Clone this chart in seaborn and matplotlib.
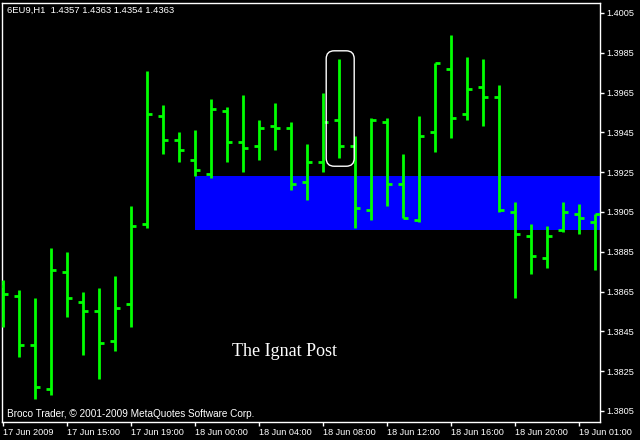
import numpy as np
import pandas as pd
import seaborn as sns
import matplotlib.pyplot as plt
from matplotlib.patches import FancyBboxPatch
from matplotlib.transforms import IdentityTransform

# 6EU9 hourly bars, 17 Jun 2009 11:00 -> 19 Jun 2009 02:00
opens = [1.3868, 1.3863, 1.3838, 1.3816, 1.3875, 1.3860, 1.3855, 1.3840, 1.3859, 1.3899,
         1.3953, 1.3941, 1.3931, 1.3924, 1.3956, 1.3940, 1.3938, 1.3948, 1.3947, 1.3920,
         1.3930, 1.3951, 1.3938, 1.3906, 1.3950, 1.3919, 1.3901, 1.3945, 1.3977, 1.3954,
         1.3968, 1.3963, 1.3905, 1.3893, 1.3882, 1.3896, 1.3904, 1.3900]
highs = [1.3871, 1.3866, 1.3862, 1.3887, 1.3885, 1.3865, 1.3867, 1.3873, 1.3908, 1.3976,
         1.3959, 1.3945, 1.3946, 1.3962, 1.3958, 1.3964, 1.3951, 1.3960, 1.3950, 1.3939,
         1.3965, 1.3982, 1.3943, 1.3952, 1.3952, 1.3934, 1.3953, 1.3980, 1.3994, 1.3983,
         1.3982, 1.3969, 1.3910, 1.3899, 1.3898, 1.3910, 1.3909, 1.3904]
lows = [1.3847, 1.3832, 1.3811, 1.3813, 1.3852, 1.3833, 1.3821, 1.3835, 1.3847, 1.3897,
        1.3934, 1.3930, 1.3923, 1.3922, 1.3930, 1.3925, 1.3931, 1.3936, 1.3916, 1.3911,
        1.3925, 1.3932, 1.3897, 1.3901, 1.3908, 1.3902, 1.3900, 1.3935, 1.3942, 1.3951,
        1.3948, 1.3905, 1.3862, 1.3874, 1.3877, 1.3895, 1.3894, 1.3876]
closes = [1.3864, 1.3838, 1.3817, 1.3876, 1.3862, 1.3855, 1.3839, 1.3857, 1.3898, 1.3954,
          1.3941, 1.3936, 1.3926, 1.3957, 1.3940, 1.3937, 1.3947, 1.3947, 1.3919, 1.3930,
          1.3950, 1.3938, 1.3907, 1.3951, 1.3919, 1.3902, 1.3943, 1.3980, 1.3952, 1.3967,
          1.3963, 1.3906, 1.3894, 1.3883, 1.3893, 1.3905, 1.3902, 1.3904]

tick_labels = ['17 Jun 2009', '17 Jun 15:00', '17 Jun 19:00', '18 Jun 00:00', '18 Jun 04:00',
               '18 Jun 08:00', '18 Jun 12:00', '18 Jun 16:00', '18 Jun 20:00', '19 Jun 01:00']
price_ticks = [1.4005, 1.3985, 1.3965, 1.3945, 1.3925, 1.3905, 1.3885, 1.3865, 1.3845, 1.3825, 1.3805]

zone_start = 12
zone_low, zone_high = 1.3896, 1.3923
box_bars = (20.2, 21.95)
box_prices = (1.3928, 1.3986)

header = '6EU9,H1  1.4357 1.4363 1.4354 1.4363'
footer = 'Broco Trader, \u00a9 2001-2009 MetaQuotes Software Corp.'

# one row per segment end: high-low stick, open tick (left), close tick (right)
rows = []
for i, (o, h, l, c) in enumerate(zip(opens, highs, lows, closes)):
    rows += [(f'{i}hl', i, l), (f'{i}hl', i, h),
             (f'{i}o', i - 0.3, o), (f'{i}o', i, o),
             (f'{i}c', i, c), (f'{i}c', i + 0.3, c)]
seg = pd.DataFrame(rows, columns=['seg', 'x', 'price'])

sns.set_theme(style='dark')
plt.rcParams['font.family'] = ['Liberation Sans', 'DejaVu Sans']

fig = plt.figure(figsize=(6.4, 4.4), dpi=100, facecolor='black')
ax = fig.add_axes([2 / 640, 18 / 440, 598 / 640, 419 / 440])
ax.set_facecolor('black')

n = len(opens)
ax.fill_between([zone_start, n + 1], zone_low, zone_high, color='#0000ff', lw=0, zorder=1)

sns.lineplot(data=seg, x='x', y='price', units='seg', estimator=None, sort=False,
             color='#00ff00', linewidth=2, legend=False, ax=ax, zorder=3)
for line in ax.lines:
    line.set_solid_capstyle('butt')

ax.set_xlim(-0.0625, 37.3125)
ax.set_ylim(1.379947, 1.4010025)

ax.set_xticks(range(0, n, 4))
ax.set_xticklabels(tick_labels, ha='left')
ax.set_yticks(price_ticks)
ax.set_yticklabels([f'{p:.4f}' for p in price_ticks])
ax.yaxis.tick_right()
ax.tick_params(axis='x', colors='white', length=3, width=1, pad=1, labelsize=6.6, bottom=True)
ax.tick_params(axis='y', colors='white', length=3, width=1, pad=1.5, labelsize=6.6, right=True, left=False)
ax.set_xlabel('')
ax.set_ylabel('')
ax.grid(False)
for s in ax.spines.values():
    s.set_visible(True)
    s.set_color('white')
    s.set_linewidth(1)

# rounded highlight box around the spike bar
fig.canvas.draw()
(x0, y0), (x1, y1) = ax.transData.transform([(box_bars[0], box_prices[0]), (box_bars[1], box_prices[1])])
ax.add_patch(FancyBboxPatch((x0, y0), x1 - x0, y1 - y0, boxstyle='round,pad=0,rounding_size=8',
                            transform=IdentityTransform(), fill=False, ec='white', lw=1, zorder=4))

ax.annotate(header, xy=(0, 1), xycoords='axes fraction', xytext=(5, -3), textcoords='offset pixels',
            va='top', ha='left', color='white', fontsize=6.8)
ax.annotate(footer, xy=(0, 0), xycoords='axes fraction', xytext=(5, 5), textcoords='offset pixels',
            va='baseline', ha='left', color='white', fontsize=7.2)
ax.text(0.4716, 0.1582, 'The Ignat Post', transform=ax.transAxes, ha='center', va='baseline',
        color='white', fontsize=13, family=['Liberation Serif', 'DejaVu Serif'])

fig.savefig('out.png', dpi=100, facecolor='black')
